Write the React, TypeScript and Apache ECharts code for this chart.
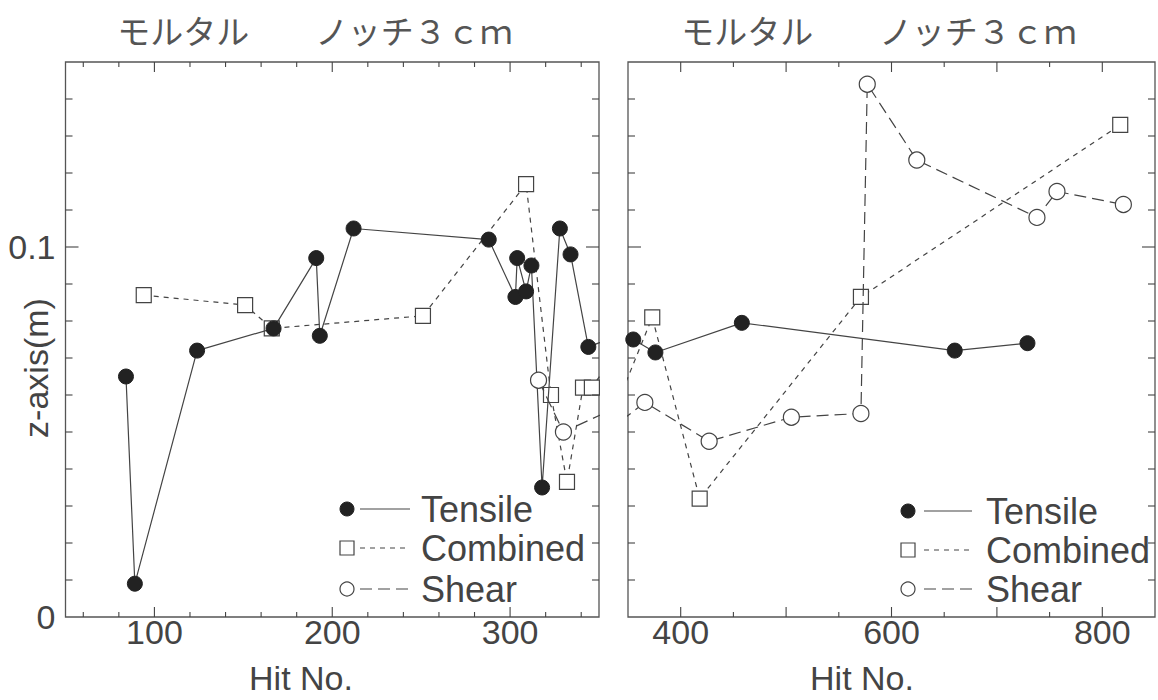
import React, { useEffect, useRef } from 'react';
import * as echarts from 'echarts';

// ---- data ----
const titleText = 'モルタル　　ノッチ３ｃｍ';
const xName = 'Hit No.';
const yName = 'z-axis(m)';

const tensileHits = [84, 89, 124, 167, 191, 193, 212, 288, 303, 304, 309, 312, 318, 328, 334, 344, 355, 376, 458, 660, 729];
const tensileZ = [0.065, 0.009, 0.072, 0.078, 0.097, 0.076, 0.105, 0.102, 0.0865, 0.097, 0.088, 0.095, 0.035, 0.105, 0.098, 0.073, 0.075, 0.0715, 0.0795, 0.072, 0.074];

const combinedHits = [94, 151, 166, 251, 309, 323, 332, 341, 346, 373, 418, 571, 817];
const combinedZ = [0.087, 0.0843, 0.078, 0.0814, 0.117, 0.06, 0.0365, 0.062, 0.062, 0.081, 0.032, 0.0865, 0.133];

const shearHits = [316, 330, 366, 427, 505, 571, 577, 624, 738, 757, 820];
const shearZ = [0.064, 0.05, 0.058, 0.0475, 0.054, 0.055, 0.144, 0.1235, 0.108, 0.115, 0.1115];

const leftRange = [50, 350];
const rightRange = [350, 850];
const zRange = [0, 0.15];

const leftXTicks = [60, 80, 100, 120, 140, 160, 180, 200, 220, 240, 260, 280, 300, 320, 340];
const leftXMajor = [100, 200, 300];
const leftXLabels = [100, 200, 300];
const rightXTicks = [400, 450, 500, 550, 600, 650, 700, 750, 800];
const rightXMajor = [400, 500, 600, 700, 800];
const rightXLabels = [400, 600, 800];
const zTicks = [0.01, 0.02, 0.03, 0.04, 0.05, 0.06, 0.07, 0.08, 0.09, 0.1, 0.11, 0.12, 0.13, 0.14];
const zMajor = [0.1];
const zLabelValues = [0, 0.1];
const zLabelTexts = ['0', '0.1'];

const legendNames = ['Tensile', 'Combined', 'Shear'];

// ---- styles ----
const FONT = '"Liberation Sans", Arial, Helvetica, sans-serif';
const CJK = '"Noto Sans CJK JP", sans-serif';
const TEXT = '#444';
const LINE = '#444';
const DOT = '#222';
const COMBINED_DASH = [5, 5];
const SHEAR_DASH = [12, 6];

function zip(a: number[], b: number[]) {
  return a.map((v, i) => [v, b[i]]);
}

function tickSeries(gi: number, kind: 'x' | 'y', values: number[], majors: number[], xr: number[], yr: number[]) {
  return {
    type: 'custom',
    xAxisIndex: gi,
    yAxisIndex: gi,
    silent: true,
    clip: false,
    z: 5,
    data: values.map((v) => (kind === 'x' ? [v, yr[0]] : [xr[0], v])),
    encode: { x: 0, y: 1 },
    renderItem: (params: any, api: any) => {
      const vx = api.value(0);
      const vy = api.value(1);
      const st = { stroke: LINE, lineWidth: 1.1 };
      if (kind === 'x') {
        const len = majors.includes(vx) ? 10 : 5;
        const b = api.coord([vx, yr[0]]);
        const t = api.coord([vx, yr[1]]);
        return {
          type: 'group',
          children: [
            { type: 'line', shape: { x1: b[0], y1: b[1], x2: b[0], y2: b[1] - len }, style: st },
            { type: 'line', shape: { x1: t[0], y1: t[1], x2: t[0], y2: t[1] + len }, style: st },
          ],
        };
      }
      const len = majors.includes(vy) ? 13 : 7;
      const l = api.coord([xr[0], vy]);
      const r = api.coord([xr[1], vy]);
      return {
        type: 'group',
        children: [
          { type: 'line', shape: { x1: l[0], y1: l[1], x2: l[0] + len, y2: l[1] }, style: st },
          { type: 'line', shape: { x1: r[0], y1: r[1], x2: r[0] - len, y2: r[1] }, style: st },
        ],
      };
    },
  };
}

function lineSeries(gi: number) {
  return [
    {
      name: legendNames[1],
      type: 'line',
      xAxisIndex: gi,
      yAxisIndex: gi,
      data: zip(combinedHits, combinedZ),
      clip: true,
      symbol: 'rect',
      symbolSize: 15,
      lineStyle: { color: LINE, width: 1.2, type: COMBINED_DASH },
      itemStyle: { color: '#fff', borderColor: LINE, borderWidth: 1.2 },
      emphasis: { disabled: true },
      z: 2,
    },
    {
      name: legendNames[0],
      type: 'line',
      xAxisIndex: gi,
      yAxisIndex: gi,
      data: zip(tensileHits, tensileZ),
      clip: true,
      symbol: 'circle',
      symbolSize: 15,
      lineStyle: { color: LINE, width: 1.2, type: 'solid' },
      itemStyle: { color: DOT, borderColor: DOT, borderWidth: 1 },
      emphasis: { disabled: true },
      z: 3,
    },
    {
      name: legendNames[2],
      type: 'line',
      xAxisIndex: gi,
      yAxisIndex: gi,
      data: zip(shearHits, shearZ),
      clip: true,
      symbol: 'circle',
      symbolSize: 16,
      lineStyle: { color: LINE, width: 1.2, type: SHEAR_DASH },
      itemStyle: { color: '#fff', borderColor: LINE, borderWidth: 1.2 },
      emphasis: { disabled: true },
      z: 4,
    },
  ];
}

function text(t: string, x: number, y: number, size: number, extra: any = {}, font = FONT) {
  return {
    type: 'text',
    x,
    y,
    silent: true,
    style: { text: t, fontSize: size, fontFamily: font, fill: TEXT, align: 'left', verticalAlign: 'middle', ...extra },
  };
}

function legend(mx: number, lx1: number, lx2: number, tx: number, ys: number[]) {
  const els: any[] = [];
  const sw = { stroke: LINE, lineWidth: 1.2 };
  // Tensile
  els.push({ type: 'circle', silent: true, shape: { cx: mx, cy: ys[0], r: 7 }, style: { fill: DOT, stroke: DOT } });
  els.push({ type: 'line', silent: true, shape: { x1: lx1, y1: ys[0], x2: lx2, y2: ys[0] }, style: sw });
  els.push(text(legendNames[0], tx, ys[0], 36));
  // Combined
  els.push({ type: 'rect', silent: true, shape: { x: mx - 7, y: ys[1] - 7, width: 14, height: 14 }, style: { fill: '#fff', ...sw } });
  els.push({ type: 'line', silent: true, shape: { x1: lx1, y1: ys[1], x2: lx2, y2: ys[1] }, style: { ...sw, lineDash: COMBINED_DASH } });
  els.push(text(legendNames[1], tx, ys[1], 36));
  // Shear
  els.push({ type: 'circle', silent: true, shape: { cx: mx, cy: ys[2], r: 7 }, style: { fill: '#fff', ...sw } });
  els.push({ type: 'line', silent: true, shape: { x1: lx1, y1: ys[2], x2: lx2, y2: ys[2] }, style: { ...sw, lineDash: SHEAR_DASH } });
  els.push(text(legendNames[2], tx, ys[2], 36));
  return els;
}

export default function App() {
  const ref = useRef<HTMLDivElement>(null);

  useEffect(() => {
    if (!ref.current) return;
    const chart = echarts.init(ref.current, null, { renderer: 'svg' });

    const axisLabelBase = { fontSize: 34, color: TEXT, fontFamily: FONT, showMinLabel: true, showMaxLabel: true };

    const option: any = {
      animation: false,
      backgroundColor: '#fff',
      grid: [
        { left: 65.5, top: 62, width: 533.5, height: 555, show: true, borderColor: '#555', borderWidth: 1.3, backgroundColor: 'transparent' },
        { left: 628, top: 62, width: 530, height: 555, show: true, borderColor: '#555', borderWidth: 1.3, backgroundColor: 'transparent' },
      ],
      xAxis: [
        {
          type: 'value', gridIndex: 0, min: leftRange[0], max: leftRange[1], interval: 50,
          axisLine: { show: false }, axisTick: { show: false }, splitLine: { show: false },
          axisLabel: { ...axisLabelBase, margin: -2, formatter: (v: number) => (leftXLabels.includes(v) ? String(v) : '') },
        },
        {
          type: 'value', gridIndex: 1, min: rightRange[0], max: rightRange[1], interval: 50,
          axisLine: { show: false }, axisTick: { show: false }, splitLine: { show: false },
          axisLabel: { ...axisLabelBase, margin: -2, formatter: (v: number) => (rightXLabels.includes(v) ? String(v) : '') },
        },
      ],
      yAxis: [
        {
          type: 'value', gridIndex: 0, min: zRange[0], max: zRange[1], interval: 0.05,
          axisLine: { show: false }, axisTick: { show: false }, splitLine: { show: false },
          axisLabel: {
            ...axisLabelBase, margin: 10,
            formatter: (v: number) => {
              const i = zLabelValues.findIndex((z) => Math.abs(z - v) < 1e-9);
              return i >= 0 ? zLabelTexts[i] : '';
            },
          },
        },
        {
          type: 'value', gridIndex: 1, min: zRange[0], max: zRange[1], interval: 0.05,
          axisLine: { show: false }, axisTick: { show: false }, splitLine: { show: false },
          axisLabel: { show: false },
        },
      ],
      series: [
        ...lineSeries(0),
        ...lineSeries(1),
        tickSeries(0, 'x', leftXTicks, leftXMajor, leftRange, zRange),
        tickSeries(0, 'y', zTicks, zMajor, leftRange, zRange),
        tickSeries(1, 'x', rightXTicks, rightXMajor, rightRange, zRange),
        tickSeries(1, 'y', zTicks, zMajor, rightRange, zRange),
      ],
      graphic: [
        text(titleText, 315, 30, 33, { align: 'center', fill: '#555' }, CJK),
        text(titleText, 879, 30, 33, { align: 'center', fill: '#555' }, CJK),
        text(xName, 301, 678, 34, { align: 'center' }),
        text(xName, 862, 678, 34, { align: 'center' }),
        { ...text(yName, 36, 368, 34, { align: 'center' }), rotation: Math.PI / 2 },
        ...legend(347, 360, 410, 421, [509, 548, 589]),
        ...legend(908, 924, 972, 986, [511, 550, 589]),
      ],
    };

    chart.setOption(option);
    return () => chart.dispose();
  }, []);

  return (
    <div
      ref={ref}
      style={{ position: 'fixed', left: 0, top: 0, width: 1158, height: 700, background: '#fff' }}
    />
  );
}
